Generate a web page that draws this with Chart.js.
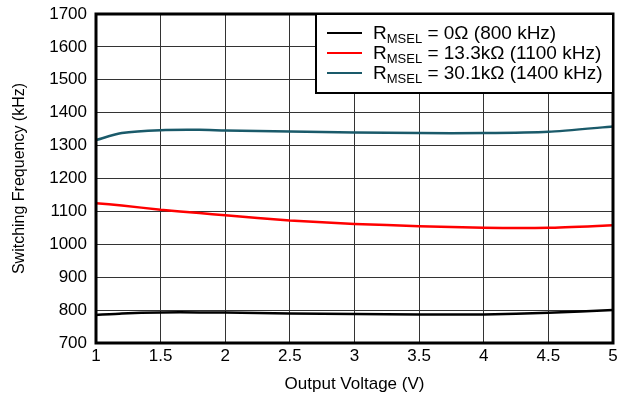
<!DOCTYPE html>
<html>
<head>
<meta charset="utf-8">
<script src="https://cdn.jsdelivr.net/npm/chart.js@4"></script>
<style>
  html, body { margin: 0; padding: 0; background: #fff; }
  #wrap { width: 626px; height: 395px; }
</style>
</head>
<body>
<div id="wrap"><canvas id="freqChart" width="626" height="395"></canvas></div>
<script>
// Output voltage (V) sample points
const vout = [1, 1.2, 1.5, 1.8, 2, 2.5, 3, 3.5, 4, 4.5, 5];

// Switching frequency (kHz) for each RMSEL setting
const freq0k = [785, 790, 793, 793, 793, 790, 788, 787, 787, 792, 800];
const freq13k = [1125, 1118, 1105, 1095, 1088, 1072, 1062, 1055, 1050, 1050, 1058];
const freq30k = [1317, 1338, 1347, 1348, 1346, 1343, 1340, 1338, 1338, 1342, 1358];

const seriesNames = [
  { sub: 'MSEL', rest: ' = 0\u03A9 (800 kHz)' },
  { sub: 'MSEL', rest: ' = 13.3k\u03A9 (1100 kHz)' },
  { sub: 'MSEL', rest: ' = 30.1k\u03A9 (1400 kHz)' }
];
const seriesColors = ['#000000', '#ff0000', '#1a5a6a'];

const FONT = '"Liberation Sans", Arial, sans-serif';

function toPoints(ys) {
  return vout.map((x, i) => ({ x: x, y: ys[i] }));
}

// heavy frame around the plot area
const framePlugin = {
  id: 'frame',
  afterDraw(chart) {
    const { ctx, chartArea: a } = chart;
    ctx.save();
    ctx.strokeStyle = '#000';
    ctx.lineWidth = 3;
    ctx.strokeRect(a.left, a.top, a.right - a.left, a.bottom - a.top);
    ctx.restore();
  }
};

// boxed legend with subscripted labels
const boxLegend = {
  id: 'boxLegend',
  afterDraw(chart) {
    const { ctx, chartArea: a } = chart;
    const bx = 316, by = a.top, bw = a.right - 316, bh = 79;
    ctx.save();
    ctx.fillStyle = '#fff';
    ctx.fillRect(bx, by, bw, bh);
    ctx.strokeStyle = '#000';
    ctx.lineWidth = 2;
    ctx.strokeRect(bx, by, bw, bh);
    chart.data.datasets.forEach((ds, i) => {
      const y = by + 19 + i * 20;
      ctx.strokeStyle = ds.borderColor;
      ctx.lineWidth = 2;
      ctx.beginPath();
      ctx.moveTo(327, y);
      ctx.lineTo(362, y);
      ctx.stroke();
      ctx.fillStyle = '#000';
      ctx.textBaseline = 'alphabetic';
      ctx.font = '19px ' + FONT;
      let x = 373;
      ctx.fillText('R', x, y + 6);
      x += ctx.measureText('R').width;
      ctx.font = '13px ' + FONT;
      ctx.fillText(seriesNames[i].sub, x, y + 10);
      x += ctx.measureText(seriesNames[i].sub).width;
      ctx.font = '19px ' + FONT;
      ctx.fillText(seriesNames[i].rest, x, y + 6);
    });
    ctx.restore();
  }
};

const datasets = [freq0k, freq13k, freq30k].map((ys, i) => ({
  label: 'R' + seriesNames[i].sub + seriesNames[i].rest,
  data: toPoints(ys),
  borderColor: seriesColors[i],
  borderWidth: 2.5,
  pointRadius: 0,
  tension: 0.2,
  fill: false
}));

new Chart(document.getElementById('freqChart'), {
  type: 'line',
  data: { datasets: datasets },
  plugins: [framePlugin, boxLegend],
  options: {
    responsive: false,
    animation: false,
    layout: { padding: { top: 14, right: 13, left: 0, bottom: 0 } },
    plugins: { legend: { display: false }, tooltip: { enabled: false } },
    scales: {
      x: {
        type: 'linear',
        min: 1,
        max: 5,
        ticks: {
          stepSize: 0.5,
          color: '#000',
          font: { family: FONT, size: 17 },
          padding: 3,
          maxRotation: 0,
          callback: (v) => String(v)
        },
        grid: { color: '#333', lineWidth: 1, drawTicks: false },
        border: { display: false },
        title: {
          display: true,
          text: 'Output Voltage (V)',
          color: '#000',
          font: { family: FONT, size: 17 },
          padding: { top: -3, bottom: 0 }
        },
        afterFit(scale) {
          scale.height = 52;
          scale.paddingLeft = 0;
          scale.paddingRight = 0;
        }
      },
      y: {
        min: 700,
        max: 1700,
        ticks: {
          stepSize: 100,
          color: '#000',
          font: { family: FONT, size: 17 },
          padding: 9,
          callback: (v) => String(v)
        },
        grid: { color: '#333', lineWidth: 1, drawTicks: false },
        border: { display: false },
        title: {
          display: true,
          text: 'Switching Frequency (kHz)',
          color: '#000',
          font: { family: FONT, size: 16 },
          padding: { top: 10, bottom: 0 }
        },
        afterFit(scale) {
          scale.width = 96;
          scale.paddingTop = 0;
          scale.paddingBottom = 0;
        }
      }
    }
  }
});
</script>
</body>
</html>
